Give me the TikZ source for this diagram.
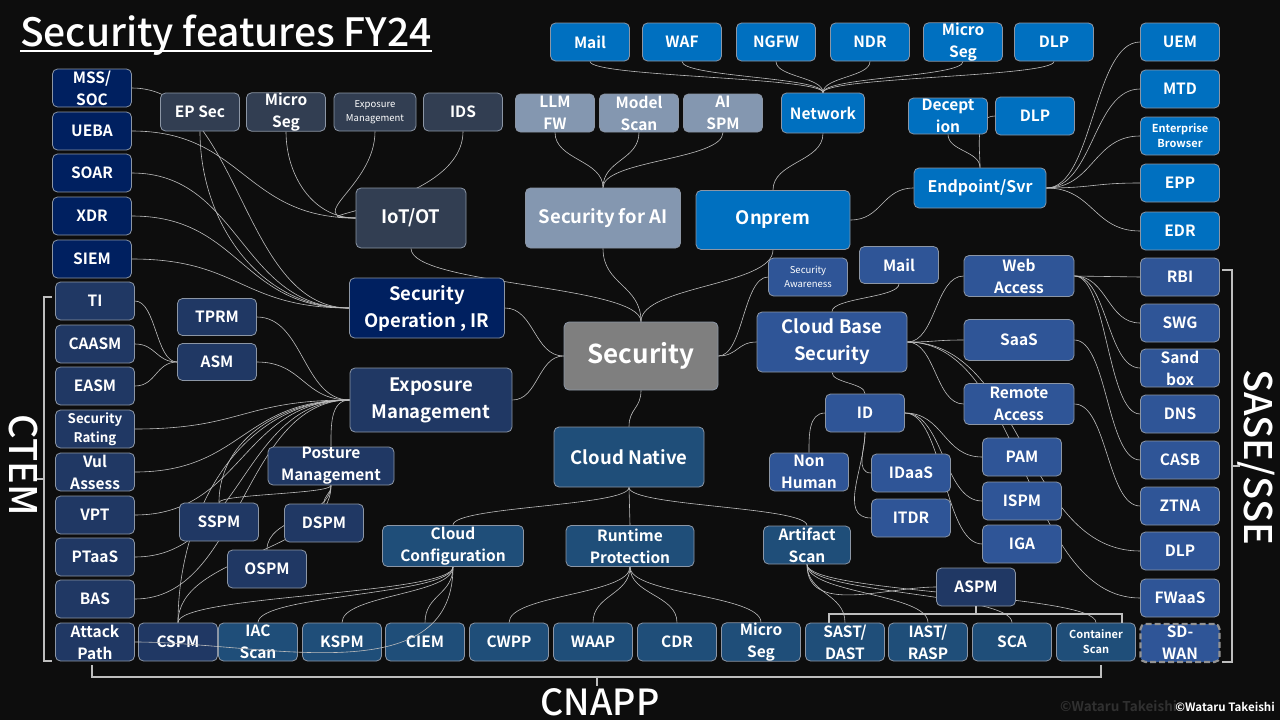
\documentclass[tikz,border=0pt]{standalone}
\usepackage{fontspec}
\setmainfont{Noto Sans CJK JP}[BoldFont={Noto Sans CJK JP Bold}]
\newfontfamily\medfont{Noto Sans CJK JP Medium}
\usetikzlibrary{calc}
\definecolor{bgcol}{RGB}{13,13,13}
\definecolor{edgecol}{RGB}{140,150,165}
\definecolor{linkcol}{RGB}{190,190,190}
\definecolor{ghostcol}{RGB}{48,48,48}
\definecolor{soccol}{RGB}{0,32,96}
\definecolor{iotcol}{RGB}{50,62,82}
\definecolor{aicol}{RGB}{132,151,176}
\definecolor{premcol}{RGB}{0,112,192}
\definecolor{cloudcol}{RGB}{47,85,151}
\definecolor{ctemcol}{RGB}{32,56,100}
\definecolor{cnappcol}{RGB}{31,78,121}
\definecolor{seccol}{RGB}{127,127,127}
\pgfdeclarelayer{bgfill}
\pgfdeclarelayer{links}
\pgfsetlayers{bgfill,links,main}
\tikzset{
	box/.style={draw=edgecol, line width=0.8pt, rounded corners=5pt, text=white, align=center, inner sep=0pt,
		minimum width=79pt, minimum height=38pt, font=\bfseries\fontsize{15.5}{22}\selectfont},
	lvlone/.style={font=\bfseries\fontsize{18.5}{27}\selectfont},
	smalltxt/.style={font=\fontsize{9.5}{14}\selectfont},
	fsoc/.style={fill=soccol},
	fiot/.style={fill=iotcol},
	fai/.style={fill=aicol},
	fprem/.style={fill=premcol},
	fcloud/.style={fill=cloudcol},
	fctem/.style={fill=ctemcol},
	fcnapp/.style={fill=cnappcol},
	fsec/.style={fill=seccol},
	link/.style={draw=linkcol, line width=0.6pt},
	hc/.style={to path={let \p1=(\tikztostart), \p2=(\tikztotarget) in
		.. controls ({(\x1+\x2)/2},\y1) and ({(\x1+\x2)/2},\y2) .. (\tikztotarget)}},
	vc/.style={to path={let \p1=(\tikztostart), \p2=(\tikztotarget) in
		.. controls (\x1,{(\y1+\y2)/2}) and (\x2,{(\y1+\y2)/2}) .. (\tikztotarget)}},
	brace/.style={draw=linkcol, line width=1.2pt},
	biglabel/.style={text=white, inner sep=0pt, font=\medfont\fontsize{38}{38}\selectfont},
}
\begin{document}
\begin{tikzpicture}[x=1pt,y=-1pt]
	\begin{pgfonlayer}{bgfill}
		\fill[bgcol] (0,0) rectangle (1280,720) ;
	\end{pgfonlayer}
	\useasboundingbox (0,0) rectangle (1280,720) ;

	\node (title)[anchor=base west, text=white, inner sep=0pt, font=\medfont\fontsize{39}{39}\selectfont] at (20,46) {Security features FY24} ;
	\draw[white, line width=2pt] ([yshift=-4.5pt]title.base west) -- ([yshift=-4.5pt]title.base east) ;

	% left column
	\node (mss)[box,fsoc] at (92,88) {MSS/\\SOC} ;
	\node (ueba)[box,fsoc] at (92,131) {UEBA} ;
	\node (soar)[box,fsoc] at (92,173) {SOAR} ;
	\node (xdr)[box,fsoc] at (92,216) {XDR} ;
	\node (siem)[box,fsoc] at (92,259) {SIEM} ;

	% ctem column
	\node (ti)[box,fctem] at (95,301) {TI} ;
	\node (caasm)[box,fctem] at (95,344) {CAASM} ;
	\node (easm)[box,fctem] at (95,386) {EASM} ;
	\node (rating)[box,fctem,font=\bfseries\fontsize{13.3}{19}\selectfont] at (95,429) {Security\\Rating} ;
	\node (vul)[box,fctem] at (95,472) {Vul\\Assess} ;
	\node (vpt)[box,fctem] at (95,515) {VPT} ;
	\node (ptaas)[box,fctem] at (95,557) {PTaaS} ;
	\node (bas)[box,fctem] at (95,599) {BAS} ;
	\node (attack)[box,fctem] at (95,642) {Attack\\Path} ;

	% bottom row
	\node (cspm)[box,fctem] at (178,642) {CSPM} ;
	\node (iac)[box,fcnapp] at (258,642) {IAC\\Scan} ;
	\node (kspm)[box,fcnapp] at (342,642) {KSPM} ;
	\node (ciem)[box,fcnapp] at (425,642) {CIEM} ;
	\node (cwpp)[box,fcnapp] at (509,642) {CWPP} ;
	\node (waap)[box,fcnapp] at (593,642) {WAAP} ;
	\node (cdr)[box,fcnapp] at (677,642) {CDR} ;
	\node (msegc)[box,fcnapp] at (761,642) {Micro\\Seg} ;
	\node (sast)[box,fcnapp] at (845,642) {SAST/\\DAST} ;
	\node (iast)[box,fcnapp] at (928,642) {IAST/\\RASP} ;
	\node (sca)[box,fcnapp] at (1012,642) {SCA} ;
	\node (cscan)[box,fcnapp,font=\bfseries\fontsize{11}{15}\selectfont] at (1096,642) {Container\\Scan} ;

	% right column
	\node (uem)[box,fprem] at (1180,42) {UEM} ;
	\node (mtd)[box,fprem] at (1180,89) {MTD} ;
	\node (browser)[box,fprem,font=\bfseries\fontsize{11}{15}\selectfont] at (1180,136) {Enterprise\\Browser} ;
	\node (epp)[box,fprem] at (1180,183) {EPP} ;
	\node (edr)[box,fprem] at (1180,231) {EDR} ;
	\node (rbi)[box,fcloud] at (1180,277) {RBI} ;
	\node (swg)[box,fcloud] at (1180,323) {SWG} ;
	\node (sandbox)[box,fcloud] at (1180,368) {Sand\\box} ;
	\node (dns)[box,fcloud] at (1180,414) {DNS} ;
	\node (casb)[box,fcloud] at (1180,460) {CASB} ;
	\node (ztna)[box,fcloud] at (1180,506) {ZTNA} ;
	\node (dlpc)[box,fcloud] at (1180,551) {DLP} ;
	\node (fwaas)[box,fcloud] at (1180,598) {FWaaS} ;
	\node (sdwan)[box,fcloud,draw=gray!85,line width=2.2pt,dash pattern=on 6pt off 3pt] at (1180,643) {SD-\\WAN} ;

	% top row
	\node (mailn)[box,fprem] at (590,42) {Mail} ;
	\node (waf)[box,fprem] at (682,42) {WAF} ;
	\node (ngfw)[box,fprem] at (776,42) {NGFW} ;
	\node (ndr)[box,fprem] at (870,42) {NDR} ;
	\node (msegn)[box,fprem] at (963,42) {Micro\\Seg} ;
	\node (dlpn)[box,fprem] at (1054,42) {DLP} ;

	% second row
	\node (epsec)[box,fiot] at (200,112) {EP Sec} ;
	\node (msegi)[box,fiot] at (286,112) {Micro\\Seg} ;
	\node (expi)[box,fiot,smalltxt,minimum width=82pt] at (375,112) {Exposure\\Management} ;
	\node (ids)[box,fiot] at (463,112) {IDS} ;
	\node (llm)[box,fai] at (555,113) {LLM\\FW} ;
	\node (mscan)[box,fai] at (639,113) {Model\\Scan} ;
	\node (aispm)[box,fai] at (723,113) {AI\\SPM} ;
	\node (network)[box,fprem,minimum width=83pt,minimum height=40pt] at (823,113) {Network} ;
	\node (decept)[box,fprem,minimum height=36pt] at (948,116) {Decept\\ion} ;
	\node (dlpe)[box,fprem] at (1035,116) {DLP} ;

	% main nodes
	\node (iot)[box,lvlone,fiot,minimum width=110pt,minimum height=60pt] at (411,218) {IoT/OT} ;
	\node (secai)[box,lvlone,fai,minimum width=155pt,minimum height=60pt] at (603,218) {Security for AI} ;
	\node (onprem)[box,lvlone,fprem,minimum width=154pt,minimum height=59pt] at (773,220) {Onprem} ;
	\node (endpoint)[box,fprem,minimum width=132pt,minimum height=40pt,font=\bfseries\fontsize{16}{22}\selectfont] at (980,188) {Endpoint/Svr} ;
	\node (secop)[box,lvlone,fsoc,minimum width=155pt,minimum height=60pt] at (427,308) {Security\\Operation , IR} ;
	\node (expo)[box,lvlone,fctem,minimum width=162pt,minimum height=64pt] at (431,400) {Exposure\\Management} ;
	\node (security)[box,fsec,minimum width=154pt,minimum height=68pt,font=\bfseries\fontsize{26}{26}\selectfont] at (641,356) {Security} ;
	\node (cnative)[box,lvlone,fcnapp,minimum width=150pt,minimum height=60pt] at (629,457) {Cloud Native} ;
	\node (cbase)[box,lvlone,fcloud,minimum width=150pt,minimum height=60pt] at (832,342) {Cloud Base\\Security} ;

	% cloud base side
	\node (aware)[box,fcloud,smalltxt] at (808,277) {Security\\Awareness} ;
	\node (mailc)[box,fcloud,minimum height=37pt] at (899,265) {Mail} ;
	\node (web)[box,fcloud,minimum width=110pt,minimum height=41pt] at (1019,276) {Web\\Access} ;
	\node (saas)[box,fcloud,minimum width=110pt,minimum height=41pt] at (1019,340) {SaaS} ;
	\node (remote)[box,fcloud,minimum width=110pt,minimum height=41pt] at (1019,404) {Remote\\Access} ;
	\node (idn)[box,fcloud] at (865,413) {ID} ;
	\node (nonhuman)[box,fcloud] at (809,472) {Non\\Human} ;
	\node (idaas)[box,fcloud] at (911,473) {IDaaS} ;
	\node (itdr)[box,fcloud] at (911,518) {ITDR} ;
	\node (pam)[box,fcloud] at (1022,457) {PAM} ;
	\node (ispm)[box,fcloud] at (1022,501) {ISPM} ;
	\node (iga)[box,fcloud] at (1022,544) {IGA} ;
	\node (aspm)[box,fctem] at (976,587) {ASPM} ;

	% exposure side
	\node (tprm)[box,fctem,minimum height=37pt] at (217,317) {TPRM} ;
	\node (asm)[box,fctem,minimum height=37pt] at (217,362) {ASM} ;
	\node (posture)[box,fctem,minimum width=126pt] at (331,466) {Posture\\Management} ;
	\node (sspm)[box,fctem] at (219,522) {SSPM} ;
	\node (dspm)[box,fctem] at (324,523) {DSPM} ;
	\node (ospm)[box,fctem] at (267,569) {OSPM} ;

	% cnapp side
	\node (cconf)[box,fcnapp,minimum width=141pt,minimum height=41pt] at (453,546) {Cloud\\Configuration} ;
	\node (runtime)[box,fcnapp,minimum width=128pt,minimum height=41pt] at (630,546) {Runtime\\Protection} ;
	\node (artifact)[box,fcnapp,minimum width=87pt] at (807,545) {Artifact\\Scan} ;

	\begin{pgfonlayer}{links}
	% soc and iot
	\draw[link] (mss.east) to[hc] (secop.west) ;
	\draw[link] (soar.east) to[hc] (secop.west) ;
	\draw[link] (xdr.east) to[hc] (secop.west) ;
	\draw[link] (siem.east) to[hc] (secop.west) ;
	\draw[link] (epsec.south) to[out=-90,in=180] (secop.west) ;
	\draw[link] (ueba.east) to[hc] (iot.west) ;
	\draw[link] (msegi.south) to[out=-90,in=180] (iot.west) ;
	\draw[link] (expi.south) to[out=-90,in=180,looseness=1.6] (iot.west) ;
	\draw[link] (ids.south) to[out=-90,in=180,looseness=1.4] (iot.west) ;
	\draw[link] (iot.south) to[vc] (security.north) ;
	% ai
	\draw[link] (llm.south) to[vc] (secai.north) ;
	\draw[link] (mscan.south) to[vc] (secai.north) ;
	\draw[link] (aispm.south) to[vc] (secai.north) ;
	\draw[link] (secai.south) to[vc] (security.north) ;
	% onprem
	\draw[link] (mailn.south) to[vc] (network.north) ;
	\draw[link] (waf.south) to[vc] (network.north) ;
	\draw[link] (ngfw.south) to[vc] (network.north) ;
	\draw[link] (ndr.south) to[vc] (network.north) ;
	\draw[link] (msegn.south) to[vc] (network.north) ;
	\draw[link] (dlpn.south) to[vc] (network.north) ;
	\draw[link] (network.south) to[vc] (onprem.north) ;
	\draw[link] (onprem.south) to[vc] (security.north) ;
	\draw[link] (onprem.east) to[hc] (endpoint.west) ;
	\draw[link] (endpoint.north) to[vc] (decept.south) ;
	\draw[link] (endpoint.north) to[out=90,in=180] (dlpe.west) ;
	\draw[link] (endpoint.east) to[hc] (uem.west) ;
	\draw[link] (endpoint.east) to[hc] (mtd.west) ;
	\draw[link] (endpoint.east) to[hc] (browser.west) ;
	\draw[link] (endpoint.east) to[hc] (epp.west) ;
	\draw[link] (endpoint.east) to[hc] (edr.west) ;
	% security
	\draw[link] (secop.east) to[hc] (security.west) ;
	\draw[link] (expo.east) to[hc] (security.west) ;
	\draw[link] (security.south) to[vc] (cnative.north) ;
	\draw[link] (security.east) to[hc] (cbase.west) ;
	\draw[link] (security.east) to[hc] (aware.west) ;
	% cloud base
	\draw[link] (cbase.north) to[vc] (mailc.south) ;
	\draw[link] (cbase.east) to[hc] (web.west) ;
	\draw[link] (cbase.east) to[hc] (saas.west) ;
	\draw[link] (cbase.east) to[hc] (remote.west) ;
	\draw[link] (cbase.east) to[hc] (dlpc.west) ;
	\draw[link] (cbase.east) to[hc] (fwaas.west) ;
	\draw[link] (cbase.south) to[vc] (idn.north) ;
	\draw[link] (web.east) to[hc] (rbi.west) ;
	\draw[link] (web.east) to[hc] (swg.west) ;
	\draw[link] (web.east) to[hc] (sandbox.west) ;
	\draw[link] (web.east) to[hc] (dns.west) ;
	\draw[link] (saas.east) to[hc] (casb.west) ;
	\draw[link] (remote.east) to[hc] (ztna.west) ;
	\draw[link] (idn.west) to[out=180,in=90] (nonhuman.north) ;
	\draw[link] (idn.south) to[out=-90,in=180] (idaas.west) ;
	\draw[link] (idn.south) to[out=-90,in=180] (itdr.west) ;
	\draw[link] (idn.east) to[hc] (pam.west) ;
	\draw[link] (idn.east) to[hc] (ispm.west) ;
	\draw[link] (idn.east) to[hc] (iga.west) ;
	% exposure
	\draw[link] (ti.east) to[hc] (asm.west) ;
	\draw[link] (caasm.east) to[hc] (asm.west) ;
	\draw[link] (easm.east) to[hc] (asm.west) ;
	\draw[link] (tprm.east) to[hc] (expo.west) ;
	\draw[link] (asm.east) to[hc] (expo.west) ;
	\draw[link] (rating.east) to[hc] (expo.west) ;
	\draw[link] (vul.east) to[hc] (expo.west) ;
	\draw[link] (vpt.east) to[hc] (expo.west) ;
	\draw[link] (ptaas.east) to[hc] (expo.west) ;
	\draw[link] (bas.east) to[hc] (expo.west) ;
	\draw[link] (expo.west) to[out=180,in=90] (sspm.north) ;
	\draw[link] (expo.west) to[out=180,in=90] (cspm.north) ;
	\draw[link] (posture.north) to[out=90,in=180] (expo.west) ;
	\draw[link] (posture.south) to[vc] (sspm.north) ;
	\draw[link] (posture.south) to[vc] (dspm.north) ;
	\draw[link] (posture.south) to[vc] (ospm.north) ;
	\draw[link] (posture.south) to[vc] (cspm.north) ;
	% cnapp
	\draw[link] (cnative.south) to[vc] (cconf.north) ;
	\draw[link] (cnative.south) to[vc] (runtime.north) ;
	\draw[link] (cnative.south) to[vc] (artifact.north) ;
	\draw[link] (cconf.south) to[vc] (cspm.north) ;
	\draw[link] (cconf.south) to[vc] (iac.north) ;
	\draw[link] (cconf.south) to[vc] (kspm.north) ;
	\draw[link] (cconf.south) to[vc] (ciem.north) ;
	\draw[link] (runtime.south) to[vc] (cwpp.north) ;
	\draw[link] (runtime.south) to[vc] (waap.north) ;
	\draw[link] (runtime.south) to[vc] (cdr.north) ;
	\draw[link] (runtime.south) to[vc] (msegc.north) ;
	\draw[link] (artifact.south) to[vc] (sast.north) ;
	\draw[link] (artifact.south) to[vc] (iast.north) ;
	\draw[link] (artifact.south) to[vc] (sca.north) ;
	\draw[link] (artifact.south) to[vc] (cscan.north) ;
	\draw[link] (artifact.south) to[out=-90,in=180] (aspm.west) ;
	\end{pgfonlayer}
	\draw[link] (cconf.south) to[out=-90,in=0] (attack.east) ;

	% brackets
	\draw[brace] (52,297) -- (44,297) -- (44,661) -- (52,661) ;
	\draw[brace] (44,479) -- (37,479) ;
	\draw[brace] (1222,270) -- (1232,270) -- (1232,662) -- (1222,662) ;
	\draw[brace] (1232,466) -- (1240,466) ;
	\draw[brace] (92,665) -- (92,677) -- (1101,677) -- (1101,665) ;
	\draw[brace] (597,677) -- (597,686) ;
	\draw[brace] (829,623) -- (829,614) -- (1122,614) -- (1122,623) ;
	\draw[brace] (aspm.south) -- (aspm.south |- 0,614) ;

	\node (cteml)[biglabel,rotate=-90] at (23,465) {CTEM} ;
	\node (sasel)[biglabel,rotate=-90] at (1256,457) {SASE/SSE} ;
	\node (cnappl)[biglabel,anchor=base,font=\medfont\fontsize{36}{36}\selectfont] at (600,715) {CNAPP} ;

	\node (ghost)[anchor=west, text=ghostcol, inner sep=0pt, font=\bfseries\fontsize{13.5}{14}\selectfont] at (1060,706) {©Wataru Takeishi} ;
	\node (copy)[anchor=east, text=white, inner sep=0pt, font=\bfseries\fontsize{11.5}{12}\selectfont] at (1275,707) {©Wataru Takeishi} ;
\end{tikzpicture}
\end{document}
